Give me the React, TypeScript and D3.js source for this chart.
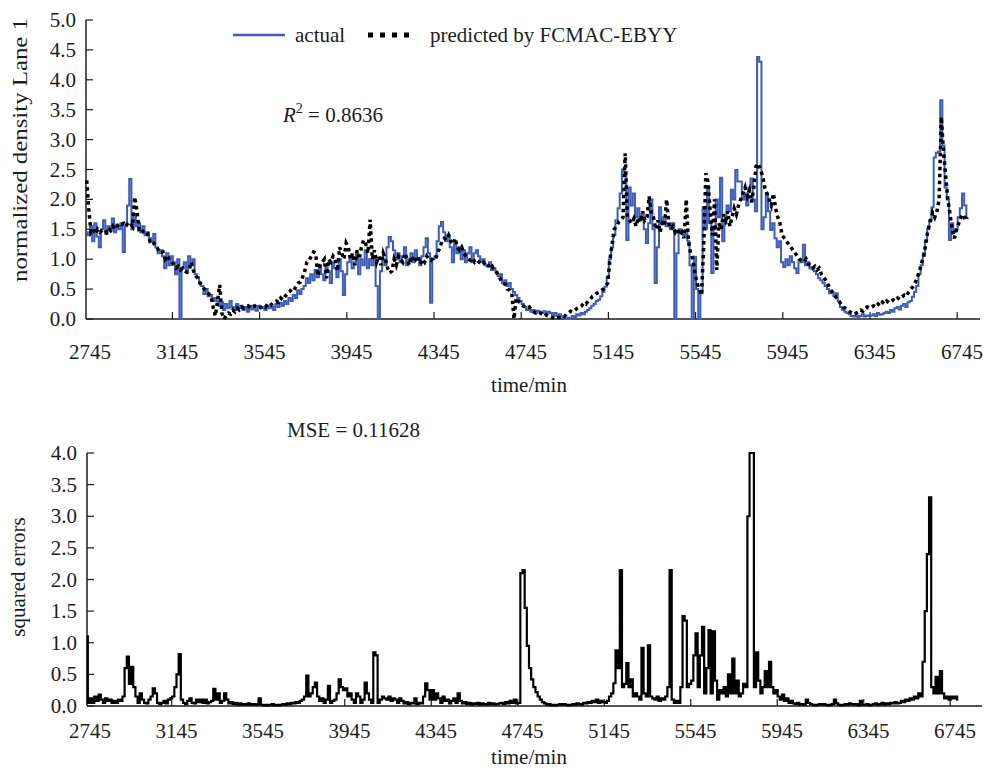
import React from 'react';
import * as d3 from 'd3';

// samples every 10 min starting at 2730 min
const T0 = 2730;
const STEP = 10;

const actual = [
  1.45, 1.40, 1.55, 1.30, 1.60, 1.38, 1.20, 1.50, 1.65, 1.42, 1.55, 1.48, 1.68, 1.45, 1.58, 1.50, 1.60, 1.12, 1.55, 1.90,
  2.34, 1.50, 1.75, 1.55, 1.60, 1.45, 1.55, 1.40, 1.45, 1.35, 1.30, 1.42, 1.20, 1.10, 1.15, 1.05, 0.85, 1.10, 0.90, 1.05,
  0.95, 0.75, 1.00, 0.00, 0.85, 0.95, 0.80, 1.05, 0.90, 1.00, 0.75, 0.70, 0.60, 0.55, 0.42, 0.50, 0.38, 0.40, 0.30, 0.35,
  0.30, 0.22, 0.28, 0.15, 0.25, 0.18, 0.30, 0.20, 0.15, 0.25, 0.18, 0.22, 0.15, 0.20, 0.12, 0.22, 0.16, 0.20, 0.14, 0.22,
  0.18, 0.20, 0.15, 0.22, 0.18, 0.20, 0.15, 0.25, 0.20, 0.27, 0.22, 0.30, 0.25, 0.35, 0.30, 0.40, 0.35, 0.48, 0.42, 0.50,
  0.55, 0.68, 0.60, 0.75, 0.65, 0.82, 0.70, 0.90, 0.75, 0.65, 0.90, 0.80, 0.60, 0.95, 0.85, 0.70, 1.00, 0.80, 0.40, 0.75,
  0.95, 1.05, 0.85, 0.95, 1.10, 0.75, 1.00, 0.90, 1.15, 0.85, 1.00, 0.90, 1.05, 0.55, 0.00, 0.80, 1.00, 0.90, 1.20, 1.37,
  1.30, 1.15, 1.00, 1.10, 0.95, 1.05, 1.20, 0.90, 1.00, 1.10, 0.95, 1.15, 1.00, 0.90, 1.05, 1.20, 1.35, 1.10, 0.27, 1.00,
  1.05, 1.30, 1.55, 1.62, 1.45, 1.30, 1.40, 1.20, 0.95, 1.25, 1.10, 1.20, 1.00, 1.15, 0.95, 1.10, 1.20, 0.95, 1.10, 1.15,
  1.05, 0.95, 1.00, 0.90, 0.88, 0.95, 0.82, 0.85, 0.78, 0.72, 0.75, 0.60, 0.65, 0.55, 0.60, 0.50, 0.45, 0.40, 0.35, 0.30,
  0.25, 0.20, 0.15, 0.18, 0.12, 0.15, 0.10, 0.14, 0.12, 0.10, 0.13, 0.08, 0.12, 0.10, 0.06, 0.10, 0.05, 0.08, 0.04, 0.02,
  0.00, 0.02, 0.00, 0.05, 0.03, 0.08, 0.06, 0.10, 0.08, 0.12, 0.15, 0.18, 0.22, 0.25, 0.30, 0.32, 0.38, 0.45, 0.54, 0.70,
  1.00, 1.20, 1.40, 1.65, 1.85, 2.10, 2.50, 2.45, 1.32, 2.20, 1.90, 2.10, 1.70, 1.85, 1.65, 1.75, 1.50, 1.27, 1.60, 2.00,
  1.50, 0.60, 1.20, 1.87, 1.60, 1.70, 1.55, 1.60, 1.50, 1.60, 0.00, 1.10, 1.50, 1.45, 1.40, 1.49, 1.30, 0.90, 0.00, 1.04,
  0.50, 0.00, 0.43, 1.87, 1.50, 2.20, 1.60, 0.77, 1.50, 2.00, 1.70, 2.36, 1.30, 1.60, 1.90, 1.80, 2.16, 2.00, 2.49, 2.30,
  2.30, 2.00, 2.10, 1.90, 2.20, 2.35, 2.00, 1.80, 4.38, 4.30, 1.50, 1.70, 2.10, 1.80, 1.49, 1.60, 1.35, 1.20, 1.30, 0.95,
  0.87, 1.00, 0.90, 1.05, 0.95, 0.85, 0.77, 0.98, 0.95, 1.24, 0.90, 0.95, 0.85, 0.87, 0.80, 0.75, 0.68, 0.65, 0.60, 0.55,
  0.50, 0.43, 0.45, 0.38, 0.43, 0.30, 0.20, 0.15, 0.12, 0.10, 0.08, 0.05, 0.04, 0.06, 0.03, 0.05, 0.08, 0.04, 0.06, 0.05,
  0.06, 0.08, 0.05, 0.10, 0.07, 0.08, 0.10, 0.12, 0.10, 0.15, 0.12, 0.18, 0.20, 0.16, 0.22, 0.25, 0.20, 0.28, 0.30, 0.37,
  0.45, 0.55, 0.75, 0.90, 1.10, 1.30, 1.50, 1.65, 1.87, 2.70, 2.78, 2.80, 3.66, 2.90, 2.20, 2.00, 1.32, 1.60, 1.45, 1.50,
  1.70, 1.85, 2.10, 1.90, 1.70,
];

const predicted = [
  2.32, 1.80, 1.45, 1.50, 1.42, 1.50, 1.45, 1.48, 1.50, 1.45, 1.52, 1.48, 1.55, 1.50, 1.55, 1.60, 1.58, 1.60, 1.55, 1.62,
  1.60, 1.55, 2.04, 1.82, 1.50, 1.52, 1.45, 1.40, 1.42, 1.30, 1.32, 1.25, 1.20, 1.15, 1.10, 1.12, 1.00, 1.05, 0.98, 0.95,
  0.90, 0.85, 0.88, 0.82, 0.85, 0.80, 0.78, 0.82, 0.95, 0.80, 0.72, 0.68, 0.60, 0.55, 0.50, 0.45, 0.42, 0.38, 0.20, 0.05,
  0.30, 0.57, 0.10, 0.00, 0.05, 0.10, 0.08, 0.15, 0.12, 0.18, 0.15, 0.20, 0.18, 0.20, 0.22, 0.18, 0.20, 0.22, 0.20, 0.18,
  0.20, 0.22, 0.20, 0.25, 0.22, 0.25, 0.28, 0.30, 0.28, 0.35, 0.32, 0.38, 0.42, 0.45, 0.50, 0.48, 0.55, 0.60, 0.62, 0.70,
  0.80, 0.95, 0.98, 1.05, 1.12, 1.10, 0.72, 0.90, 0.95, 1.00, 0.68, 1.00, 0.95, 1.05, 1.00, 0.80, 1.20, 1.10, 1.00, 1.27,
  1.20, 1.00, 1.10, 0.90, 1.15, 1.00, 1.20, 1.32, 1.25, 1.10, 1.66, 1.00, 1.15, 0.95, 1.05, 0.90, 1.10, 1.00, 0.85, 0.77,
  0.80, 1.00, 0.90, 1.05, 1.00, 0.95, 1.10, 1.00, 0.90, 1.05, 0.95, 1.00, 1.05, 0.92, 1.00, 0.95, 1.05, 1.00, 0.98, 1.02,
  1.00, 1.10, 1.20, 1.30, 1.35, 1.32, 1.40, 1.30, 1.25, 1.35, 1.20, 1.15, 1.20, 1.10, 1.05, 1.00, 0.98, 1.02, 0.95, 0.98,
  0.95, 0.92, 0.95, 0.90, 0.92, 0.85, 0.88, 0.80, 0.78, 0.72, 0.65, 0.60, 0.58, 0.50, 0.48, 0.43, 0.00, 0.35, 0.30, 0.25,
  0.22, 0.20, 0.18, 0.20, 0.15, 0.12, 0.10, 0.12, 0.10, 0.08, 0.10, 0.06, 0.05, 0.03, 0.02, 0.00, 0.02, 0.03, 0.05, 0.04,
  0.08, 0.10, 0.13, 0.12, 0.15, 0.18, 0.20, 0.22, 0.27, 0.25, 0.30, 0.33, 0.38, 0.40, 0.43, 0.45, 0.48, 0.50, 0.55, 0.60,
  1.00, 1.25, 1.50, 1.55, 1.62, 1.65, 1.70, 2.77, 1.70, 1.65, 1.60, 1.68, 1.55, 1.70, 1.62, 1.80, 1.65, 1.70, 2.05, 1.75,
  1.70, 1.50, 1.65, 1.45, 1.60, 1.55, 2.00, 1.60, 1.50, 1.55, 1.45, 1.50, 1.40, 1.45, 1.35, 2.00, 1.30, 1.10, 1.00, 0.77,
  0.60, 0.50, 0.40, 1.20, 2.44, 2.30, 1.80, 1.40, 2.00, 0.82, 1.60, 1.50, 1.75, 1.65, 1.80, 1.55, 1.70, 1.85, 1.75, 1.90,
  2.00, 2.10, 2.20, 2.05, 2.15, 1.95, 2.20, 2.55, 2.60, 2.50, 2.40, 2.20, 2.10, 2.00, 1.90, 2.10, 1.85, 1.70, 1.60, 1.40,
  1.35, 1.30, 1.25, 1.20, 1.15, 1.10, 1.05, 1.00, 0.98, 0.95, 1.00, 0.92, 0.90, 0.85, 0.88, 0.82, 0.85, 0.75, 0.70, 0.65,
  0.58, 0.50, 0.45, 0.40, 0.35, 0.30, 0.25, 0.20, 0.18, 0.15, 0.12, 0.10, 0.08, 0.10, 0.12, 0.15, 0.13, 0.18, 0.20, 0.18,
  0.20, 0.22, 0.20, 0.25, 0.22, 0.28, 0.25, 0.30, 0.27, 0.30, 0.32, 0.30, 0.35, 0.33, 0.37, 0.40, 0.38, 0.45, 0.50, 0.54,
  0.60, 0.70, 0.80, 0.95, 1.04, 1.30, 1.50, 1.65, 1.78, 1.70, 1.80, 2.00, 3.38, 2.80, 2.40, 2.00, 1.75, 1.50, 1.35, 1.50,
  1.60, 1.70, 1.75, 1.65, 1.70,
];

const sqErrors = [
  1.10, 0.05, 0.12, 0.05, 0.15, 0.08, 0.18, 0.10, 0.05, 0.12, 0.08, 0.10, 0.05, 0.08, 0.05, 0.10, 0.08, 0.15, 0.60, 0.78,
  0.35, 0.62, 0.30, 0.15, 0.05, 0.20, 0.10, 0.05, 0.04, 0.10, 0.15, 0.28, 0.20, 0.05, 0.03, 0.05, 0.08, 0.04, 0.10, 0.12,
  0.15, 0.30, 0.50, 0.82, 0.10, 0.05, 0.03, 0.08, 0.12, 0.05, 0.04, 0.10, 0.06, 0.10, 0.05, 0.10, 0.04, 0.06, 0.08, 0.27,
  0.10, 0.20, 0.05, 0.08, 0.20, 0.10, 0.04, 0.06, 0.03, 0.05, 0.02, 0.04, 0.02, 0.03, 0.02, 0.04, 0.02, 0.03, 0.02, 0.03,
  0.12, 0.02, 0.01, 0.02, 0.01, 0.02, 0.03, 0.01, 0.02, 0.01, 0.02, 0.03, 0.02, 0.04, 0.03, 0.05, 0.04, 0.06, 0.05, 0.08,
  0.10, 0.15, 0.48, 0.15, 0.20, 0.30, 0.37, 0.15, 0.08, 0.12, 0.05, 0.10, 0.32, 0.05, 0.08, 0.10, 0.20, 0.42, 0.30, 0.25,
  0.28, 0.15, 0.20, 0.10, 0.05, 0.20, 0.15, 0.05, 0.10, 0.37, 0.20, 0.10, 0.05, 0.85, 0.80, 0.05, 0.10, 0.15, 0.12, 0.10,
  0.15, 0.08, 0.12, 0.10, 0.05, 0.12, 0.08, 0.04, 0.06, 0.03, 0.05, 0.04, 0.12, 0.03, 0.05, 0.04, 0.15, 0.36, 0.25, 0.10,
  0.25, 0.10, 0.20, 0.12, 0.05, 0.15, 0.08, 0.10, 0.04, 0.08, 0.12, 0.05, 0.20, 0.08, 0.04, 0.06, 0.03, 0.05, 0.02, 0.04,
  0.03, 0.05, 0.02, 0.04, 0.03, 0.02, 0.05, 0.03, 0.04, 0.02, 0.03, 0.04, 0.05, 0.03, 0.06, 0.04, 0.08, 0.05, 0.10, 0.04,
  0.05, 2.10, 2.15, 1.55, 0.95, 0.60, 0.42, 0.30, 0.22, 0.15, 0.10, 0.06, 0.04, 0.02, 0.03, 0.01, 0.02, 0.01, 0.02, 0.03,
  0.02, 0.03, 0.02, 0.01, 0.02, 0.03, 0.02, 0.04, 0.03, 0.02, 0.05, 0.04, 0.06, 0.05, 0.08, 0.06, 0.10, 0.05, 0.08, 0.06,
  0.05, 0.08, 0.15, 0.20, 0.36, 0.88, 0.60, 2.15, 0.30, 0.35, 0.68, 0.30, 0.42, 0.15, 0.20, 0.15, 0.10, 0.92, 0.20, 0.15,
  0.96, 0.15, 0.12, 0.10, 0.15, 0.08, 0.12, 0.10, 0.15, 0.30, 2.15, 0.10, 0.05, 0.08, 0.05, 0.30, 1.42, 1.35, 0.30, 0.35,
  0.40, 0.80, 1.15, 0.30, 0.80, 1.25, 0.20, 0.60, 1.20, 0.20, 1.18, 0.40, 0.10, 0.25, 0.20, 0.30, 0.15, 0.50, 0.20, 0.75,
  0.20, 0.40, 0.15, 0.20, 0.35, 0.30, 3.00, 4.00, 4.00, 0.30, 0.85, 0.40, 0.20, 0.30, 0.55, 0.30, 0.70, 0.30, 0.20, 0.25,
  0.15, 0.10, 0.18, 0.08, 0.12, 0.05, 0.08, 0.04, 0.03, 0.05, 0.02, 0.03, 0.02, 0.10, 0.05, 0.03, 0.02, 0.01, 0.02, 0.03,
  0.02, 0.03, 0.02, 0.01, 0.02, 0.03, 0.10, 0.04, 0.02, 0.01, 0.02, 0.03, 0.02, 0.04, 0.03, 0.02, 0.03, 0.01, 0.08, 0.02,
  0.02, 0.03, 0.01, 0.02, 0.03, 0.04, 0.02, 0.03, 0.05, 0.02, 0.04, 0.03, 0.05, 0.04, 0.06, 0.04, 0.05, 0.08, 0.06, 0.10,
  0.08, 0.12, 0.10, 0.15, 0.12, 0.20, 0.15, 0.70, 1.50, 2.40, 3.30, 0.30, 0.20, 0.46, 0.20, 0.55, 0.20, 0.12, 0.15, 0.10,
  0.15, 0.12, 0.15, 0.10,
];

const xTickLabels = [2745, 3145, 3545, 3945, 4345, 4745, 5145, 5545, 5945, 6345, 6745];
const yTopTicks = [0, 0.5, 1, 1.5, 2, 2.5, 3, 3.5, 4, 4.5, 5];
const yBotTicks = [0, 0.5, 1, 1.5, 2, 2.5, 3, 3.5, 4];

const BLUE = '#3d5db8';
const INK = '#1c1c1c';
const FONT = '"Liberation Serif", "Times New Roman", serif';

const tAt = (i: number) => T0 + i * STEP;

function Panel({ x, y, yTicks, axisLeft, axisRight, xTitleY, tickLabelY }: any) {
  const y0 = y.range()[0];
  const y1 = y.range()[1];
  return (
    <g>
      <line x1={axisLeft} x2={axisRight} y1={y0} y2={y0} stroke={INK} strokeWidth={1.5} />
      <line x1={axisLeft} x2={axisLeft} y1={y0} y2={y1} stroke={INK} strokeWidth={1.5} />
      {yTicks.map((v: number) => (
        <g key={v}>
          <line x1={axisLeft} x2={axisLeft + 7} y1={y(v)} y2={y(v)} stroke={INK} strokeWidth={1.2} />
          <text x={axisLeft - 10} y={y(v) + 7} textAnchor="end" fontSize={21}>{v.toFixed(1)}</text>
        </g>
      ))}
      {xTickLabels.map((v) => (
        <g key={v}>
          {v > xTickLabels[0] && (
            <line x1={x(v - 22)} x2={x(v - 22)} y1={y0} y2={y0 - 7} stroke={INK} strokeWidth={1.2} />
          )}
          <text x={x(v)} y={tickLabelY} textAnchor="middle" fontSize={21}>{v}</text>
        </g>
      ))}
      <text x={529} y={xTitleY} textAnchor="middle" fontSize={21}>time/min</text>
    </g>
  );
}

export default function App() {
  const xTop = d3.scaleLinear().domain([2745, 6745]).range([90, 962]);
  const yTop = d3.scaleLinear().domain([0, 5]).range([319, 20]);
  const xBot = d3.scaleLinear().domain([2745, 6745]).range([90, 955]);
  const yBot = d3.scaleLinear().domain([0, 4]).range([706, 453]);

  const stepTop = d3.line<number>().x((d, i) => xTop(tAt(i))).y((d) => yTop(d)).curve(d3.curveStep);
  const lineTop = d3.line<number>().x((d, i) => xTop(tAt(i))).y((d) => yTop(d));
  const stepBot = d3.line<number>().x((d, i) => xBot(tAt(i))).y((d) => yBot(d)).curve(d3.curveStep);

  return (
    <svg width={985} height={769} style={{ position: 'absolute', left: 0, top: 0, background: '#fff' }}
      fontFamily={FONT} fill={INK}>
      {/* top panel */}
      <Panel x={xTop} y={yTop} yTicks={yTopTicks} axisLeft={86} axisRight={980} xTitleY={392} tickLabelY={359} />
      <path d={stepTop(actual) || ''} fill="none" stroke={BLUE} strokeWidth={2} strokeLinejoin="miter" />
      <path d={lineTop(predicted) || ''} fill="none" stroke="#000" strokeWidth={3.5} strokeDasharray="3.5 3.5" />
      <text transform="translate(27,150) rotate(-90)" textAnchor="middle" fontSize={22} textLength={264}
        lengthAdjust="spacingAndGlyphs">normalized density Lane 1</text>

      {/* legend */}
      <line x1={233} x2={285} y1={35} y2={35} stroke={BLUE} strokeWidth={2.5} />
      <text x={295} y={42} fontSize={21}>actual</text>
      <line x1={368} x2={412} y1={35} y2={35} stroke="#000" strokeWidth={5} strokeDasharray="5 7" />
      <text x={430} y={42} fontSize={21}>predicted by FCMAC-EBYY</text>

      <text x={283} y={122} fontSize={21}>
        <tspan fontStyle="italic">R</tspan>
        <tspan fontSize={14} dy={-9}>2</tspan>
        <tspan dy={9}> = 0.8636</tspan>
      </text>

      {/* bottom panel */}
      <Panel x={xBot} y={yBot} yTicks={yBotTicks} axisLeft={87} axisRight={982} xTitleY={764} tickLabelY={738} />
      <path d={stepBot(sqErrors) || ''} fill="none" stroke="#000" strokeWidth={2.2} strokeLinejoin="miter" />
      <text transform="translate(25,577) rotate(-90)" textAnchor="middle" fontSize={21}>squared errors</text>
      <text x={287} y={437} fontSize={21}>MSE = 0.11628</text>
    </svg>
  );
}
